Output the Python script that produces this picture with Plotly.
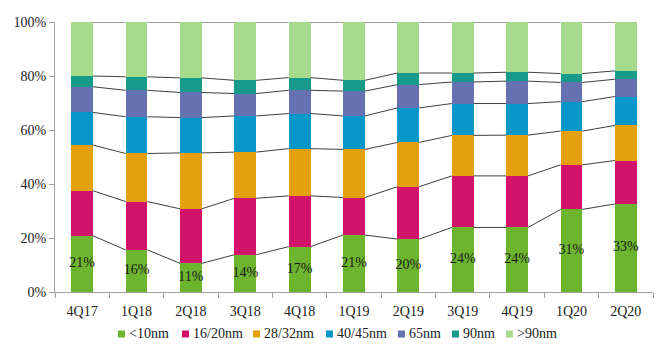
import plotly.graph_objects as go
import numpy as np

categories = ["4Q17", "1Q18", "2Q18", "3Q18", "4Q18", "1Q19", "2Q19", "3Q19", "4Q19", "1Q20", "2Q20"]

lt10nm = [20.8, 15.6, 10.6, 13.8, 16.8, 21.1, 19.6, 23.9, 23.9, 30.6, 32.6]
nm16_20 = [16.7, 17.9, 20.2, 20.9, 18.8, 13.9, 19.4, 19.1, 19.1, 16.5, 16.1]
nm28_32 = [16.9, 17.8, 20.7, 17.1, 17.5, 17.8, 16.4, 15.0, 15.1, 12.5, 13.0]
nm40_45 = [12.1, 13.6, 13.1, 13.4, 13.0, 12.4, 12.8, 11.8, 11.7, 10.9, 10.7]
nm65 = [9.5, 9.8, 9.3, 8.3, 8.6, 9.2, 8.6, 8.0, 8.3, 7.1, 6.4]
nm90 = [4.0, 5.0, 5.4, 4.9, 4.7, 4.0, 4.3, 3.3, 3.3, 3.3, 3.1]
gt90nm = [20.0, 20.3, 20.7, 21.6, 20.6, 21.6, 18.9, 18.9, 18.6, 19.1, 18.1]

series_names = ["<10nm", "16/20nm", "28/32nm", "40/45nm", "65nm", "90nm", ">90nm"]
series_values = [lt10nm, nm16_20, nm28_32, nm40_45, nm65, nm90, gt90nm]
colors = ["#6DB42F", "#D2136B", "#E5A010", "#0797C8", "#6671B1", "#179A8A", "#A6DA8D"]

FONT = "Liberation Serif, Times New Roman, serif"
TXT = "#222222"
BAR_W = 0.4
xpos = list(range(len(categories)))

# page body margin offsets the figure by 8px; geometry below is in screen pixels
OFF = 8
W, H = 664, 358
PX0, PX1, PY0, PY1 = 55, 653, 22, 292       # plot area on screen
ML, MT = PX0 - OFF, PY0 - OFF
MR, MB = W + OFF - PX1, H + OFF - PY1
PW, PH = PX1 - PX0, PY1 - PY0

fig = go.Figure()
for name, vals, col in zip(series_names, series_values, colors):
    fig.add_trace(go.Bar(x=xpos, y=vals, name=name, marker=dict(color=col, line=dict(width=0)),
                         width=BAR_W, showlegend=False, hoverinfo="name+y"))

# value labels centred in the <10nm segment
fig.add_trace(go.Scatter(x=xpos, y=[v / 2 for v in lt10nm], mode="text",
                         text=[f"{round(v)}%" for v in lt10nm],
                         textfont=dict(family=FONT, size=14, color="#1a1a1a"),
                         showlegend=False, hoverinfo="skip"))

# connector lines between stacked segment tops
cum = np.cumsum(np.array(series_values), axis=0)
for level in cum:
    xs, ys = [], []
    for i in range(len(categories) - 1):
        xs += [xpos[i] + BAR_W / 2, xpos[i + 1] - BAR_W / 2, None]
        ys += [level[i], level[i + 1], None]
    fig.add_trace(go.Scatter(x=xs, y=ys, mode="lines", line=dict(color="#404040", width=1),
                             showlegend=False, hoverinfo="skip"))

# invisible trace to activate the boundary-tick axis
fig.add_trace(go.Scatter(x=[0], y=[0], xaxis="x2", mode="markers", marker=dict(opacity=0),
                         showlegend=False, hoverinfo="skip"))

# legend drawn by hand (screen x of each marker's left edge)
legend_px = [118, 182, 253, 326, 398, 452, 506]
legend_cy = 334
shapes, annots = [], []
for name, col, px in zip(series_names, colors, legend_px):
    shapes.append(dict(type="rect", xref="paper", yref="paper",
                       x0=(px - PX0) / PW, x1=(px + 7 - PX0) / PW,
                       y0=(PY1 - (legend_cy + 3.5)) / PH, y1=(PY1 - (legend_cy - 3.5)) / PH,
                       fillcolor=col, line=dict(width=0)))
    annots.append(dict(xref="paper", yref="paper", x=(px + 9 - PX0) / PW,
                       y=(PY1 - legend_cy) / PH, xanchor="left", yanchor="middle",
                       text=name.replace("<", "&lt;").replace(">", "&gt;"), showarrow=False,
                       font=dict(family=FONT, size=14, color=TXT)))

fig.update_layout(
    barmode="stack",
    width=W, height=H,
    margin=dict(l=ML, r=MR, t=MT, b=MB, autoexpand=False),
    plot_bgcolor="white", paper_bgcolor="white",
    font=dict(family=FONT, size=14, color=TXT),
    showlegend=False,
    shapes=shapes, annotations=annots,
    xaxis=dict(range=[-0.5, len(categories) - 0.5], tickmode="array", tickvals=xpos, ticktext=categories,
               showgrid=False, zeroline=False, showline=True, linecolor="#A0A0A0", linewidth=1,
               ticks="", ticklabelstandoff=6, tickfont=dict(family=FONT, size=14, color=TXT)),
    xaxis2=dict(range=[-0.5, len(categories) - 0.5], overlaying="x", tickmode="array",
                tickvals=[i + 0.5 for i in range(-1, len(categories))], ticks="outside", ticklen=5,
                tickcolor="#A0A0A0", showticklabels=False, showgrid=False, zeroline=False, side="bottom"),
    yaxis=dict(range=[0, 100], tickvals=[0, 20, 40, 60, 80, 100], ticktext=["0%", "20%", "40%", "60%", "80%", "100%"],
               showgrid=False, zeroline=False, showline=True, linecolor="#A0A0A0", linewidth=1,
               ticks="outside", ticklen=5, tickcolor="#A0A0A0",
               tickfont=dict(family=FONT, size=14, color=TXT)),
)
fig.write_html("out.html")
